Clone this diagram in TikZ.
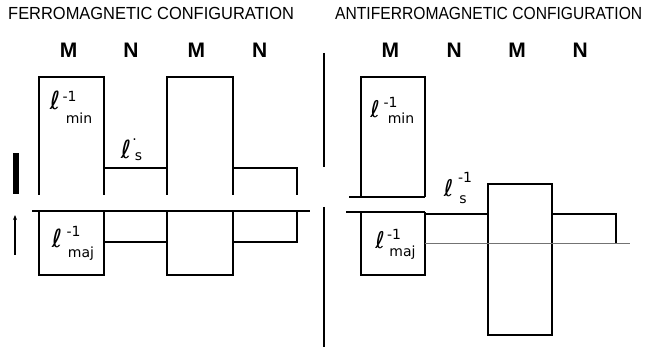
\documentclass[tikz,border=0pt]{standalone}
\usepackage{fontspec}
\setmainfont{Liberation Sans}
\newfontfamily\labfont{DejaVu Sans}
\usetikzlibrary{arrows.meta}
\begin{document}
\begin{tikzpicture}[x=1pt,y=-1pt,
  prof/.style={line width=1.8pt, line join=miter},
  ttl/.style={inner sep=0pt, anchor=base west, font=\fontsize{17.5}{17.5}\selectfont},
  mn/.style={inner sep=0pt, anchor=base, font=\fontsize{21}{21}\selectfont\bfseries},
  ell/.style={inner sep=0pt, font=\labfont\fontsize{25}{25}\selectfont},
  ellsm/.style={inner sep=0pt, font=\labfont\fontsize{23}{23}\selectfont},
  idx/.style={inner sep=0pt, font=\labfont\fontsize{14}{14}\selectfont},
]
\useasboundingbox (0,0) rectangle (645,355);
\fill[white] (0,0) rectangle (645,355);

% titles
\node[ttl] (tf) at (8,20) {\scalebox{0.94}[1]{FERROMAGNETIC CONFIGURATION}};
\node[ttl] (ta) at (335,20) {\scalebox{0.893}[1]{ANTIFERROMAGNETIC CONFIGURATION}};

% layer letters
\node[mn] (fm1) at (68.7,58) {M};
\node[mn] (fn1) at (131,58) {N};
\node[mn] (fm2) at (196.3,58) {M};
\node[mn] (fn2) at (259.7,58) {N};
\node[mn] (am1) at (390.3,58) {M};
\node[mn] (an1) at (454.3,58) {N};
\node[mn] (am2) at (517,58) {M};
\node[mn] (an2) at (580.3,58) {N};

% ferromagnetic, upper profile
\draw[prof] (39,195) -- (39,77) -- (104,77) -- (104,195);
\draw[prof] (104,168) -- (167,168);
\draw[prof] (167,195) -- (167,77) -- (233,77) -- (233,195);
\draw[prof] (233,168) -- (297,168) -- (297,195);

% ferromagnetic, lower profile
\draw[line width=2.2pt] (32,211) -- (310,211);
\draw[prof] (39,211) -- (39,275) -- (104,275) -- (104,211);
\draw[prof] (104,242) -- (167,242);
\draw[prof] (167,211) -- (167,275) -- (233,275) -- (233,211);
\draw[prof] (233,242) -- (297,242) -- (297,211);

% markers at left
\fill (13,153) rectangle (19,194);
\coordinate (arrS) at (15,255);
\coordinate (arrE) at (15,215);
\draw[line width=1.4pt, -{Stealth[length=5pt,width=4pt]}] (arrS) -- (arrE);

% separator
\draw[line width=1.5pt] (324,53) -- (324,167);
\draw[line width=1.5pt] (324,207) -- (324,347);

% antiferromagnetic
\draw[prof] (349,197) -- (425,197);
\draw[prof] (361,197) -- (361,77) -- (425,77) -- (425,197);
\draw[prof] (346,212) -- (425,212);
\draw[prof] (361,212) -- (361,275) -- (425,275) -- (425,212);
\draw[prof] (425,214) -- (488,214);
\draw[prof] (488,184) rectangle (552,335);
\draw[prof] (552,214) -- (616,214) -- (616,243);
\draw[line width=0.8pt, black!55] (425,243) -- (630,243);

% labels ferro
\node[ell] (fl1) at (55,100) {ℓ};
\node[idx] (fl1p) at (69.5,96.5) {-1};
\node[idx] (fl1b) at (79,118) {min};
\node[ell] (fl2) at (126,149) {ℓ};
\node[idx] (fl2p) at (134.5,142) {·};
\node[idx] (fl2b) at (138.5,157) {s};
\node[ell] (fl3) at (57,238) {ℓ};
\node[idx] (fl3p) at (73.5,231.5) {-1};
\node[idx] (fl3b) at (81,253.5) {maj};

% labels antiferro
\node[ellsm] (al1) at (375,109) {ℓ};
\node[idx] (al1p) at (390.5,102) {-1};
\node[idx] (al1b) at (401,118.5) {min};
\node[ellsm] (al2) at (448.5,188.5) {ℓ};
\node[idx] (al2p) at (465,177.5) {-1};
\node[idx] (al2b) at (463,199.5) {s};
\node[ellsm] (al3) at (380,240) {ℓ};
\node[idx] (al3p) at (394,234) {-1};
\node[idx] (al3b) at (402.5,252.5) {maj};
\end{tikzpicture}
\end{document}
